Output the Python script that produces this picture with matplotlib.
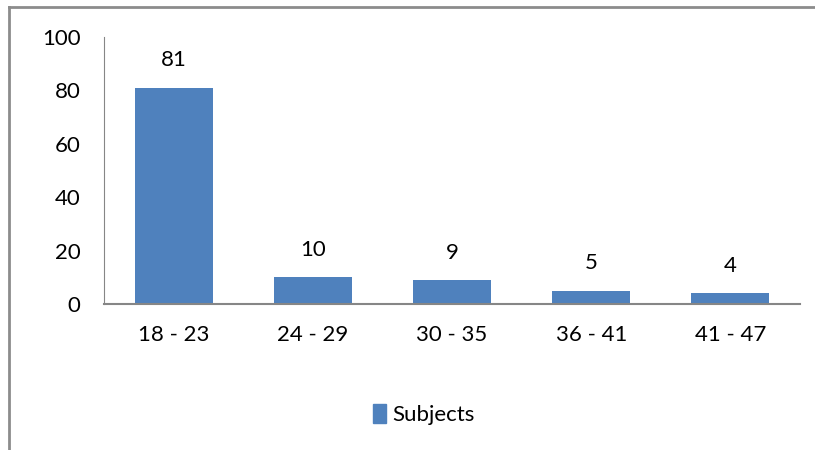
import matplotlib.pyplot as plt
from matplotlib.lines import Line2D
from matplotlib.patches import Patch

plt.rcParams['font.family'] = ['Lato', 'DejaVu Sans']

groups = ['18 - 23', '24 - 29', '30 - 35', '36 - 41', '41 - 47']
subjects = [81, 10, 9, 5, 4]
yticks = [0, 20, 40, 60, 80, 100]

bar_color = '#4f81bd'

fig = plt.figure(figsize=(8.15, 4.5), dpi=100)
ax = fig.add_axes([0.1276, 0.3244, 0.854, 0.5934])

x = range(len(groups))
bars = ax.bar(x, subjects, width=0.56, color=bar_color)
for b, v in zip(bars, subjects):
    ax.text(b.get_x() + b.get_width() / 2, v + 6.5, str(v), ha='center', va='bottom',
            fontsize=16, color='black')

ax.set_xlim(-0.5, len(groups) - 0.5)
ax.set_ylim(0, 100)
ax.set_yticks(yticks)
ax.set_xticks(list(x))
ax.set_xticklabels(groups)
ax.tick_params(axis='both', length=0, labelsize=16)
ax.tick_params(axis='y', pad=17)
ax.tick_params(axis='x', pad=15)

for s in ['top', 'right']:
    ax.spines[s].set_visible(False)
ax.spines['left'].set_color('#868686')
ax.spines['bottom'].set_color('#868686')
ax.spines['bottom'].set_linewidth(1.5)

fig.legend(handles=[Patch(color=bar_color, label='Subjects')], loc='center',
           bbox_to_anchor=(0.52, 0.078), frameon=False, fontsize=16,
           handlelength=0.6, handleheight=0.9, handletextpad=0.3)

# outer chart border (left and top visible)
fig.add_artist(Line2D([9 / 815, 9 / 815], [0, 1 - 7 / 450], color='#8c8c8c', lw=2,
                      transform=fig.transFigure))
fig.add_artist(Line2D([9 / 815, 1], [1 - 7 / 450, 1 - 7 / 450], color='#8c8c8c', lw=2,
                      transform=fig.transFigure))

fig.savefig('out.png', dpi=100)
